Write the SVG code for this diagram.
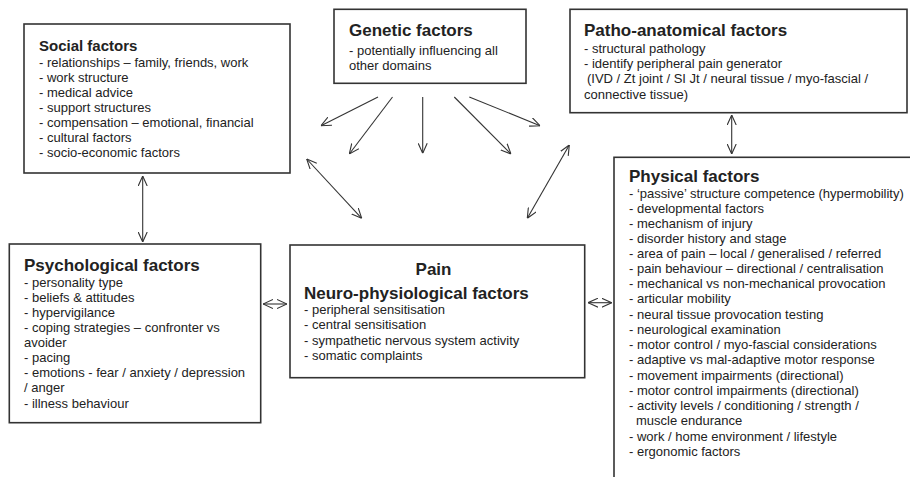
<svg xmlns="http://www.w3.org/2000/svg" width="910" height="477" viewBox="0 0 910 477">
<style>
.box{fill:#fff;stroke:#333;stroke-width:1.6}
.t{font-family:"Liberation Sans",Arial,sans-serif;fill:#222}
.h{font-weight:bold;font-size:17px}
.h15{font-weight:bold;font-size:15px}
.b{font-size:13px}
.c{fill:none;stroke:#333;stroke-width:1.1}
</style>
<defs>
<marker id="ah" viewBox="0 0 10 10" refX="10" refY="5" markerWidth="10" markerHeight="10" markerUnits="userSpaceOnUse" orient="auto-start-reverse">
<path d="M0,0.5 L10,5 L0,9.5" fill="none" stroke="#333" stroke-width="1.1"/>
</marker>
</defs>
<rect width="910" height="477" fill="#fff"/>
<g id="connectors">
<line class="c" x1="142.7" y1="176" x2="142.7" y2="242" marker-start="url(#ah)" marker-end="url(#ah)"/>
<line class="c" x1="263" y1="304" x2="287" y2="304" marker-start="url(#ah)" marker-end="url(#ah)"/>
<line class="c" x1="588" y1="302.7" x2="611.7" y2="302.7" marker-start="url(#ah)" marker-end="url(#ah)"/>
<line class="c" x1="731.7" y1="115" x2="731.7" y2="154" marker-start="url(#ah)" marker-end="url(#ah)"/>
<line class="c" x1="378" y1="97" x2="321" y2="125.7" marker-end="url(#ah)"/>
<line class="c" x1="392.5" y1="97" x2="349.3" y2="154" marker-end="url(#ah)"/>
<line class="c" x1="422.7" y1="97" x2="422.7" y2="153.3" marker-end="url(#ah)"/>
<line class="c" x1="454.3" y1="97" x2="511" y2="154" marker-end="url(#ah)"/>
<line class="c" x1="469.3" y1="97" x2="540" y2="125.7" marker-end="url(#ah)"/>
<line class="c" x1="306.7" y1="159" x2="361.7" y2="218.3" marker-start="url(#ah)" marker-end="url(#ah)"/>
<line class="c" x1="569.3" y1="145" x2="527.3" y2="218.3" marker-start="url(#ah)" marker-end="url(#ah)"/>
</g>
<g id="social">
<rect class="box" x="24" y="24" width="266" height="149"/>
<text class="t h15" x="39" y="50.5">Social factors</text>
<text class="t b">
<tspan x="39" y="66.7">- relationships – family, friends, work</tspan>
<tspan x="39" y="81.8">- work structure</tspan>
<tspan x="39" y="96.9">- medical advice</tspan>
<tspan x="39" y="112">- support structures</tspan>
<tspan x="39" y="127.1">- compensation – emotional, financial</tspan>
<tspan x="39" y="142.2">- cultural factors</tspan>
<tspan x="39" y="157.3">- socio-economic factors</tspan>
</text>
</g>
<g id="genetic">
<rect class="box" x="334" y="9.3" width="192" height="74"/>
<text class="t h" x="349" y="36">Genetic factors</text>
<text class="t b">
<tspan x="349" y="54.5">- potentially influencing all</tspan>
<tspan x="349" y="69.5">other domains</tspan>
</text>
</g>
<g id="patho">
<rect class="box" x="570" y="9.3" width="337" height="103.4"/>
<text class="t h" x="584" y="35.7">Patho-anatomical factors</text>
<text class="t b">
<tspan x="584" y="52.7">- structural pathology</tspan>
<tspan x="584" y="68">- identify peripheral pain generator</tspan>
<tspan x="587" y="83.3">(IVD / Zt joint / SI Jt / neural tissue / myo-fascial /</tspan>
<tspan x="584" y="98.6">connective tissue)</tspan>
</text>
</g>
<g id="psychological">
<rect class="box" x="9.3" y="244" width="251.4" height="178.7"/>
<text class="t h" x="24" y="270.7">Psychological factors</text>
<text class="t b">
<tspan x="24" y="286.7">- personality type</tspan>
<tspan x="24" y="301.8">- beliefs &amp; attitudes</tspan>
<tspan x="24" y="316.9">- hypervigilance</tspan>
<tspan x="24" y="332">- coping strategies – confronter vs</tspan>
<tspan x="24" y="347.1">avoider</tspan>
<tspan x="24" y="362.2">- pacing</tspan>
<tspan x="24" y="377.3">- emotions - fear / anxiety / depression</tspan>
<tspan x="24" y="392.4">/ anger</tspan>
<tspan x="24" y="407.5">- illness behaviour</tspan>
</text>
</g>
<g id="pain">
<rect class="box" x="290" y="245" width="294.7" height="132.7"/>
<text class="t h" x="433.5" y="275" text-anchor="middle">Pain</text>
<text class="t h" x="304" y="298.7">Neuro-physiological factors</text>
<text class="t b">
<tspan x="304" y="314">- peripheral sensitisation</tspan>
<tspan x="304" y="329.3">- central sensitisation</tspan>
<tspan x="304" y="344.6">- sympathetic nervous system activity</tspan>
<tspan x="304" y="359.9">- somatic complaints</tspan>
</text>
</g>
<g id="physical">
<rect class="box" x="614" y="157.3" width="320" height="340"/>
<text class="t h" x="629" y="182">Physical factors</text>
<text class="t b">
<tspan x="629" y="197.5">- ‘passive’ structure competence (hypermobility)</tspan>
<tspan x="629" y="212.6">- developmental factors</tspan>
<tspan x="629" y="227.7">- mechanism of injury</tspan>
<tspan x="629" y="242.8">- disorder history and stage</tspan>
<tspan x="629" y="257.9">- area of pain – local / generalised / referred</tspan>
<tspan x="629" y="273">- pain behaviour – directional / centralisation</tspan>
<tspan x="629" y="288.2">- mechanical vs non-mechanical provocation</tspan>
<tspan x="629" y="303.45">- articular mobility</tspan>
<tspan x="629" y="318.7">- neural tissue provocation testing</tspan>
<tspan x="629" y="333.95">- neurological examination</tspan>
<tspan x="629" y="349.2">- motor control / myo-fascial considerations</tspan>
<tspan x="629" y="364.45">- adaptive vs mal-adaptive motor response</tspan>
<tspan x="629" y="379.7">- movement impairments (directional)</tspan>
<tspan x="629" y="394.95">- motor control impairments (directional)</tspan>
<tspan x="629" y="410.2">- activity levels / conditioning / strength /</tspan>
<tspan x="636" y="425.45">muscle endurance</tspan>
<tspan x="629" y="440.7">- work / home environment / lifestyle</tspan>
<tspan x="629" y="455.95">- ergonomic factors</tspan>
</text>
</g>
</svg>
